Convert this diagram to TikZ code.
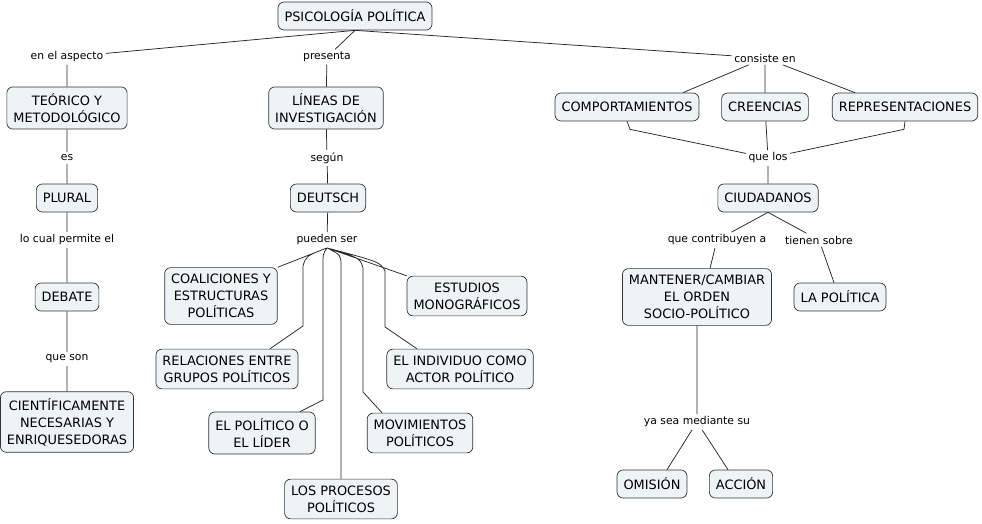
\documentclass[tikz,border=0pt]{standalone}
\usepackage{fontspec}
\setmainfont{DejaVu Sans}
\usetikzlibrary{calc}
\definecolor{conceptfill}{HTML}{EEF3F6}
\definecolor{conceptline}{HTML}{333333}
\begin{document}
\begin{tikzpicture}[x=1pt, y=-1pt,
        concept/.style={draw=conceptline, fill=conceptfill, rounded corners=6pt, align=center,
            inner xsep=6.5pt, inner ysep=6.5pt, minimum height=28pt, line width=0.7pt,
            font=\fontsize{12.9}{17}\selectfont},
        phrase/.style={inner sep=2.5pt, font=\fontsize{10.8}{13}\selectfont},
        link/.style={draw=black!85, line width=0.75pt}]
        \useasboundingbox (0,0) rectangle (982,524);

        % conceptos
        \node[style=concept] (psico) at (355, 16) {PSICOLOGÍA POLÍTICA};
        \node[style=concept] (teorico) at (67, 108) {TEÓRICO Y\\METODOLÓGICO};
        \node[style=concept] (plural) at (67, 198) {PLURAL};
        \node[style=concept] (debate) at (67, 297) {DEBATE};
        \node[style=concept] (cientif) at (67, 422) {CIENTÍFICAMENTE\\NECESARIAS Y\\ENRIQUESEDORAS};
        \node[style=concept] (lineas) at (326, 108) {LÍNEAS DE\\INVESTIGACIÓN};
        \node[style=concept] (deutsch) at (328, 198) {DEUTSCH};
        \node[style=concept] (coalic) at (221, 296) {COALICIONES Y\\ESTRUCTURAS\\POLÍTICAS};
        \node[style=concept] (estudios) at (467, 296) {ESTUDIOS\\MONOGRÁFICOS};
        \node[style=concept] (relac) at (227, 369) {RELACIONES ENTRE\\GRUPOS POLÍTICOS};
        \node[style=concept] (individuo) at (460, 369) {EL INDIVIDUO COMO\\ACTOR POLÍTICO};
        \node[style=concept] (lider) at (262, 433) {EL POLÍTICO O\\EL LÍDER};
        \node[style=concept] (movim) at (420, 433) {MOVIMIENTOS\\POLÍTICOS};
        \node[style=concept] (procesos) at (341, 499) {LOS PROCESOS\\POLÍTICOS};
        \node[style=concept] (comport) at (627, 107) {COMPORTAMIENTOS};
        \node[style=concept] (creencias) at (765, 107) {CREENCIAS};
        \node[style=concept] (repres) at (905, 107) {REPRESENTACIONES};
        \node[style=concept] (ciudad) at (768, 198) {CIUDADANOS};
        \node[style=concept] (mantener) at (697, 297) {MANTENER/CAMBIAR\\EL ORDEN\\SOCIO-POLÍTICO};
        \node[style=concept] (lapolitica) at (840, 297) {LA POLÍTICA};
        \node[style=concept] (omision) at (652, 484) {OMISIÓN};
        \node[style=concept] (accion) at (741, 484) {ACCIÓN};

        % frases de enlace
        \node[style=phrase] (aspecto) at (67, 57) {en el aspecto};
        \node[style=phrase] (es) at (67, 158) {es};
        \node[style=phrase] (permite) at (67, 240) {lo cual permite el};
        \node[style=phrase] (queson) at (67, 359) {que son};
        \node[style=phrase] (presenta) at (327, 57) {presenta};
        \node[style=phrase] (segun) at (327, 158) {según};
        \node[style=phrase] (pueden) at (327, 240) {pueden ser};
        \node[style=phrase] (consiste) at (765, 58) {consiste en};
        \node[style=phrase] (quelos) at (768, 158) {que los};
        \node[style=phrase] (contrib) at (717, 240) {que contribuyen a};
        \node[style=phrase] (tienen) at (819, 240) {tienen sobre};
        \node[style=phrase] (mediante) at (697, 422) {ya sea mediante su};

        \draw[style=link]
            (psico.south) -- (aspecto)
            (psico.south) -- (presenta)
            (psico.south) -- (consiste)
            (aspecto) -- (teorico)
            (teorico) -- (es) (es) -- (plural)
            (plural) -- (permite) (permite) -- (debate)
            (debate) -- (queson) (queson) -- (cientif)
            (presenta) -- (lineas)
            (lineas) -- (segun) (segun) -- (deutsch)
            (deutsch) -- (pueden)
        ;
        \draw[style=link]
            (pueden.south) -- (coalic.north east)
            (pueden.south) -- (estudios.north west)
            (pueden.south) .. controls (306, 256) .. (303, 266) -- (303, 326) -- ($(relac.north)+(43,0)$)
            (pueden.south) .. controls (323, 254) .. (323, 264) -- (323, 400) -- ($(lider.north)+(38,0)$)
            (pueden.south) .. controls (341, 255) .. (341, 266) -- (procesos.north)
            (pueden.south) .. controls (360, 258) .. (363, 268) -- (363, 392) -- ($(movim.north)+(-38,0)$)
            (pueden.south) .. controls (380, 262) .. (385, 271) -- (385, 327) -- ($(individuo.north)+(-43,0)$)
        ;
        \draw[style=link]
            (consiste) -- ($(comport.north)+(56,0)$)
            (consiste) -- (creencias)
            (consiste) -- ($(repres.north)+(-50,0)$)
            (comport.south) -- ($(comport.south)+(3,8)$) -- (quelos)
            (repres.south) -- ($(repres.south)+(-1,8)$) -- (quelos)
            (creencias) -- (quelos) (quelos) -- (ciudad)
            (ciudad.south) -- (contrib)
            (ciudad.south) -- (tienen)
            (contrib) -- ($(mantener.north)+(13,0)$)
            (tienen) -- ($(lapolitica.north)+(-6,0)$)
            (mantener) -- (mediante)
            (mediante) -- ($(omision.north)+(15,0)$)
            (mediante) -- ($(accion.north)+(-13,0)$)
        ;
    \end{tikzpicture}
\end{document}
